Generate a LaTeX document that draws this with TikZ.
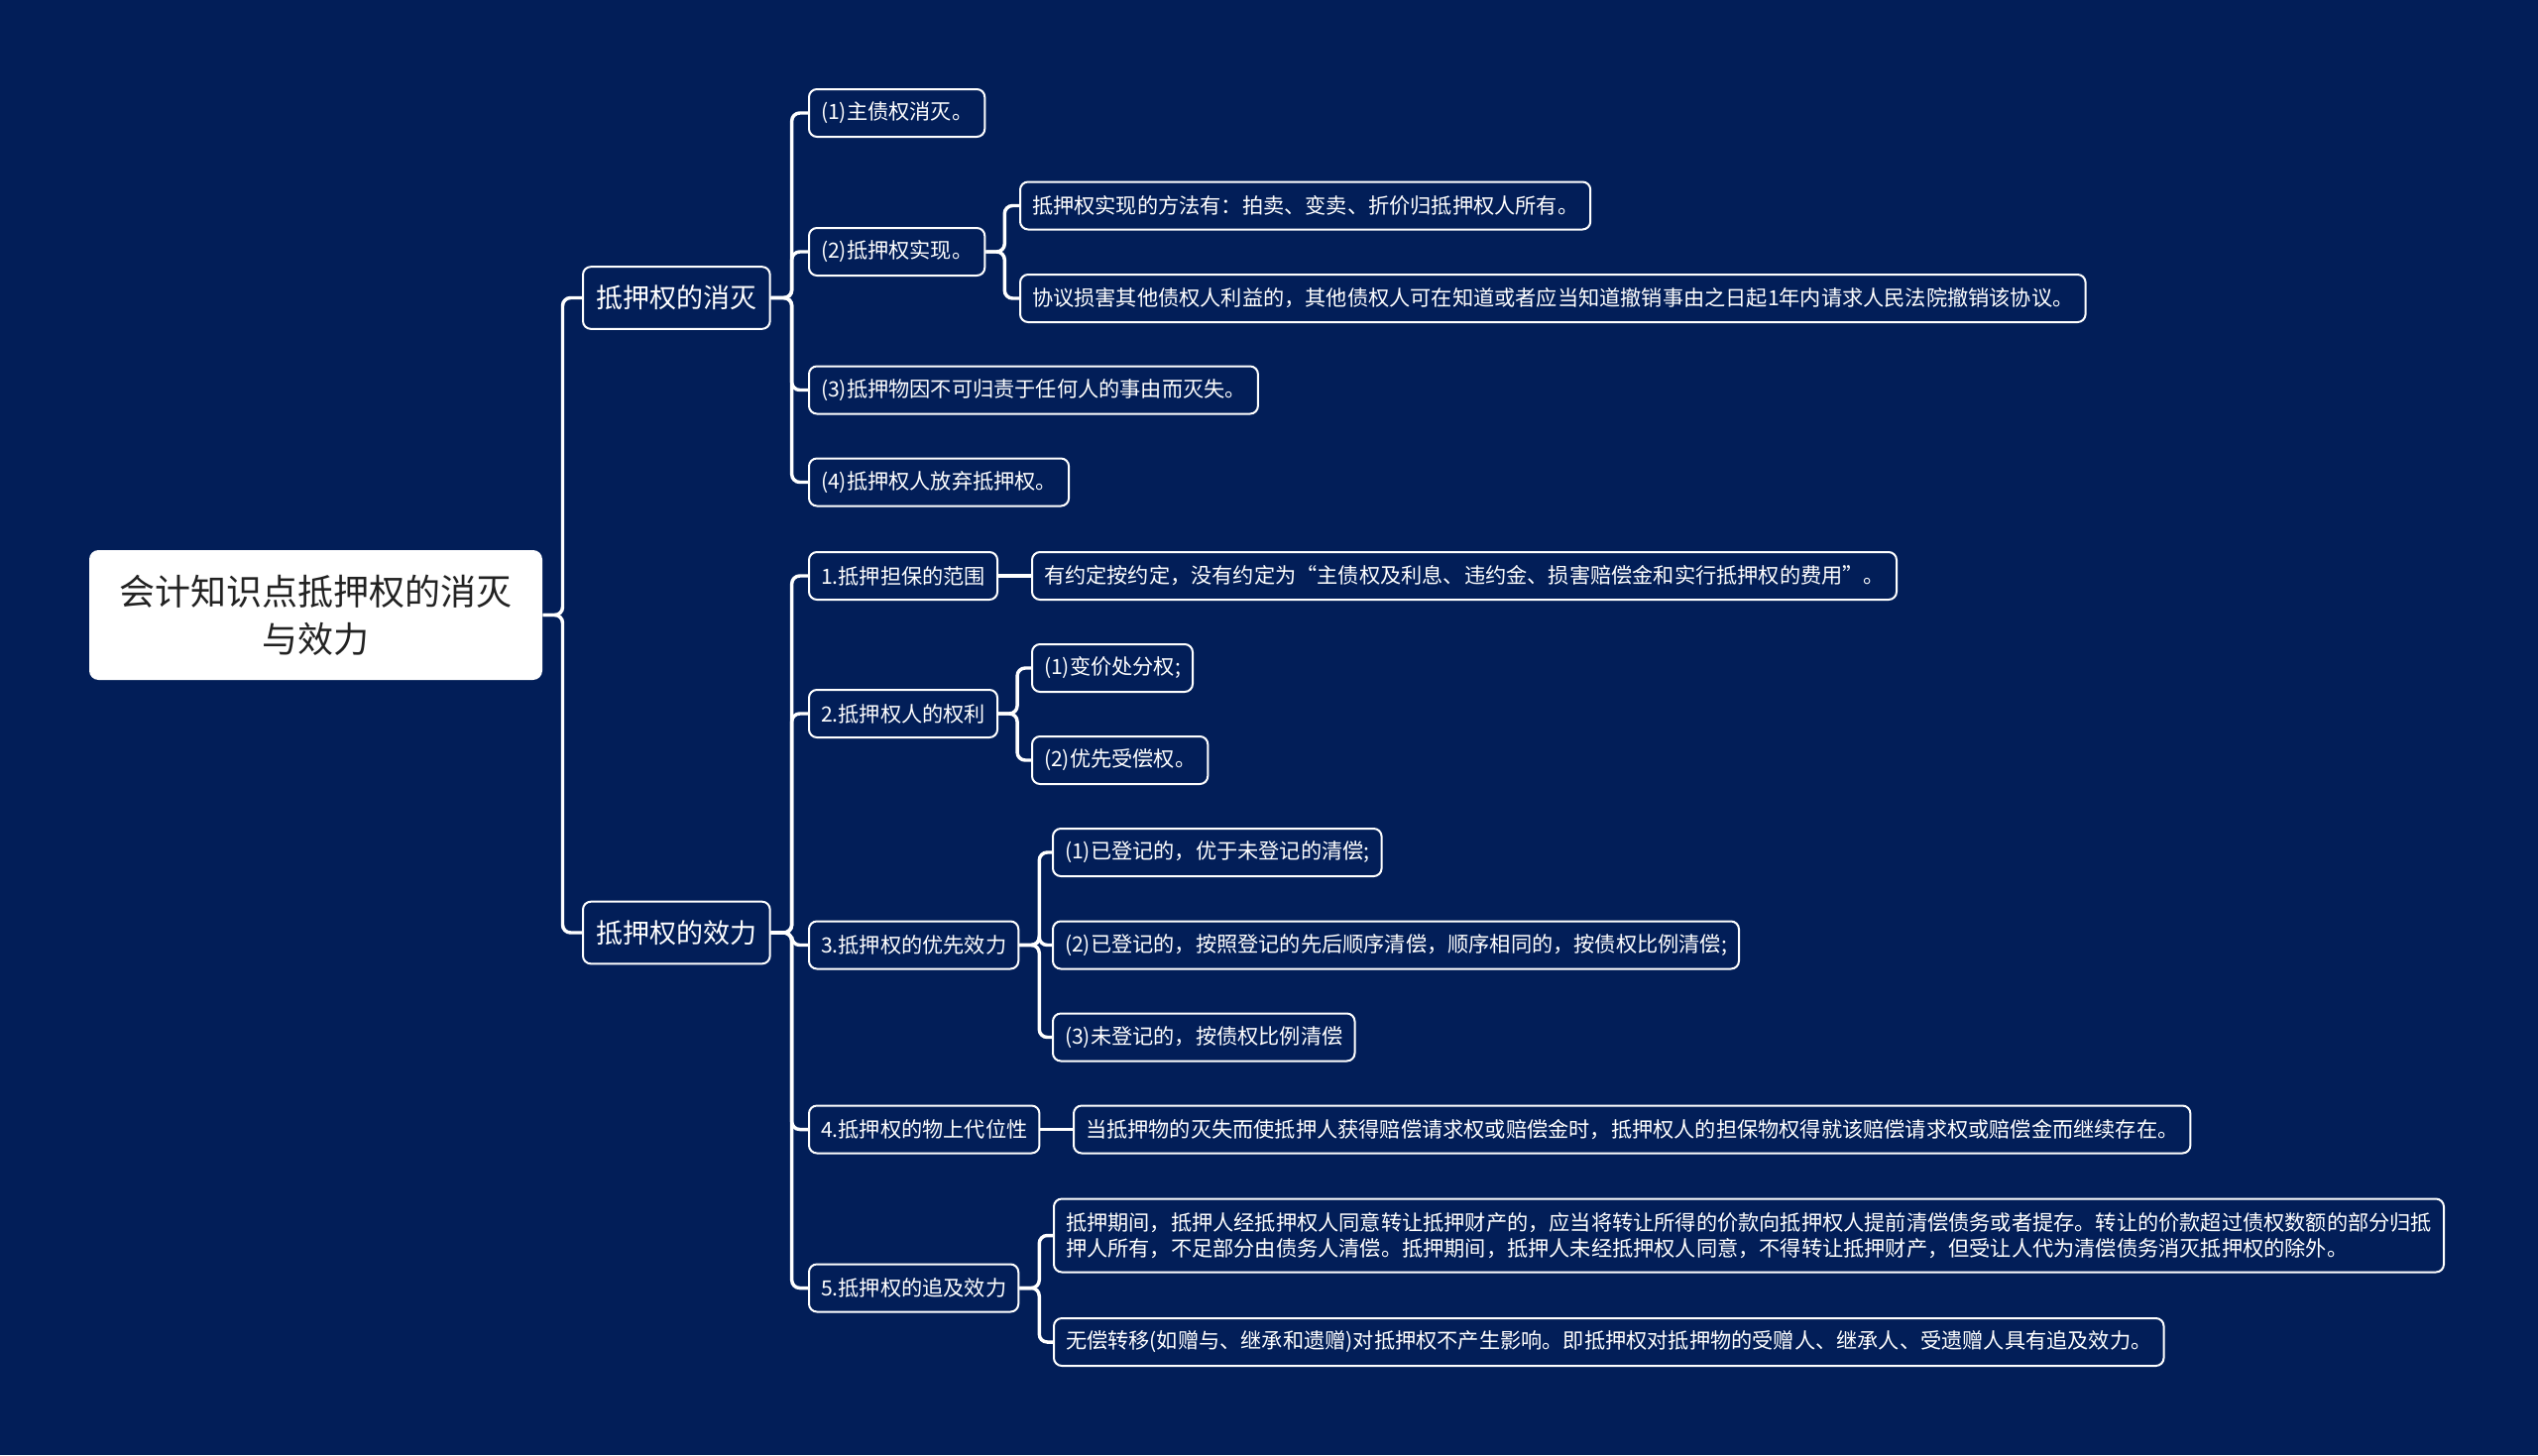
\documentclass[tikz,border=0pt]{standalone}
\usepackage{fontspec}
\setmainfont{Noto Sans CJK SC}
\definecolor{bgnavy}{RGB}{2,30,88}
\definecolor{roottext}{RGB}{34,34,34}

\tikzset{every picture/.style={line width=0.75pt}}
\tikzset{
  topic/.style={draw=white,line width=1.5pt,fill=bgnavy,text=white,rounded corners=6pt,
    anchor=west,inner xsep=9pt,inner ysep=0pt,minimum height=36pt,align=left,
    font=\fontsize{15.9}{19.5}\selectfont},
  major/.style={topic,minimum height=47pt,inner xsep=10pt,font=\fontsize{20.25}{24}\selectfont},
  rootbox/.style={fill=white,rounded corners=7pt,minimum width=342.75pt,minimum height=98.25pt,
    align=center,text=roottext,font=\fontsize{27}{36}\selectfont},
  conn/.style={draw=white,line width=2.6pt,rounded corners=6pt},
}

\begin{document}
\begin{tikzpicture}[x=0.75pt,y=0.75pt,yscale=-1,xscale=1]
		%background, 2560 x 1468
		\fill [bgnavy] (0,0) rectangle (2560,1468);
		\useasboundingbox (0,0) rectangle (2560,1468);
		
		% Root Node
		\node (root) [rootbox] at (318.5,620.5) {会计知识点抵押权的消灭\\与效力};
		
		% Text Node
		\node (ext) [major] at (587,300.5) {抵押权的消灭};
		% Text Node
		\node (eff) [major] at (587,941) {抵押权的效力};
		
		% Text Node
		\node (ext1) [topic] at (815,114) {(1)主债权消灭。};
		% Text Node
		\node (ext2) [topic] at (815,254) {(2)抵押权实现。};
		% Text Node
		\node (ext2a) [topic] at (1028,207.5) {抵押权实现的方法有：拍卖、变卖、折价归抵押权人所有。};
		% Text Node
		\node (ext2b) [topic] at (1028,301) {协议损害其他债权人利益的，其他债权人可在知道或者应当知道撤销事由之日起1年内请求人民法院撤销该协议。};
		% Text Node
		\node (ext3) [topic] at (815,393.5) {(3)抵押物因不可归责于任何人的事由而灭失。};
		% Text Node
		\node (ext4) [topic] at (815,486.5) {(4)抵押权人放弃抵押权。};
		
		% Text Node
		\node (eff1) [topic] at (815,581) {1.抵押担保的范围};
		% Text Node
		\node (eff1a) [topic] at (1040,581) {有约定按约定，没有约定为“主债权及利息、违约金、损害赔偿金和实行抵押权的费用”。};
		% Text Node
		\node (eff2) [topic] at (815,720) {2.抵押权人的权利};
		% Text Node
		\node (eff2a) [topic] at (1040,674) {(1)变价处分权;};
		% Text Node
		\node (eff2b) [topic] at (1040,767) {(2)优先受偿权。};
		% Text Node
		\node (eff3) [topic] at (815,953.5) {3.抵押权的优先效力};
		% Text Node
		\node (eff3a) [topic] at (1061,860) {(1)已登记的，优于未登记的清偿;};
		% Text Node
		\node (eff3b) [topic] at (1061,953.5) {(2)已登记的，按照登记的先后顺序清偿，顺序相同的，按债权比例清偿;};
		% Text Node
		\node (eff3c) [topic] at (1061,1046.5) {(3)未登记的，按债权比例清偿};
		% Text Node
		\node (eff4) [topic] at (815,1139.5) {4.抵押权的物上代位性};
		% Text Node
		\node (eff4a) [topic] at (1082,1139.5) {当抵押物的灭失而使抵押人获得赔偿请求权或赔偿金时，抵押权人的担保物权得就该赔偿请求权或赔偿金而继续存在。};
		% Text Node
		\node (eff5) [topic] at (815,1299.5) {5.抵押权的追及效力};
		% Text Node
		\node (eff5a) [topic,minimum height=55.5pt] at (1062,1246.5) {抵押期间，抵押人经抵押权人同意转让抵押财产的，应当将转让所得的价款向抵押权人提前清偿债务或者提存。转让的价款超过债权数额的部分归抵\\押人所有，不足部分由债务人清偿。抵押期间，抵押人未经抵押权人同意，不得转让抵押财产，但受让人代为清偿债务消灭抵押权的除外。};
		% Text Node
		\node (eff5b) [topic] at (1062,1354) {无偿转移(如赠与、继承和遗赠)对抵押权不产生影响。即抵押权对抵押物的受赠人、继承人、受遗赠人具有追及效力。};
		
		%Connectors root
		\draw [conn] (root.east) -- ++(20,0) |- (ext.west);
		\draw [conn] (root.east) -- ++(20,0) |- (eff.west);
		%Connectors ext
		\draw [conn] (ext.east) -- ++(21,0) |- (ext1.west);
		\draw [conn] (ext.east) -- ++(21,0) |- (ext2.west);
		\draw [conn] (ext.east) -- ++(21,0) |- (ext3.west);
		\draw [conn] (ext.east) -- ++(21,0) |- (ext4.west);
		\draw [conn] (ext2.east) -- ++(19,0) |- (ext2a.west);
		\draw [conn] (ext2.east) -- ++(19,0) |- (ext2b.west);
		%Connectors eff
		\draw [conn] (eff.east) -- ++(21,0) |- (eff1.west);
		\draw [conn] (eff.east) -- ++(21,0) |- (eff2.west);
		\draw [conn] (eff.east) -- ++(21,0) |- (eff3.west);
		\draw [conn] (eff.east) -- ++(21,0) |- (eff4.west);
		\draw [conn] (eff.east) -- ++(21,0) |- (eff5.west);
		\draw [conn] (eff1.east) -- (eff1a.west);
		\draw [conn] (eff2.east) -- ++(19,0) |- (eff2a.west);
		\draw [conn] (eff2.east) -- ++(19,0) |- (eff2b.west);
		\draw [conn] (eff3.east) -- ++(20,0) |- (eff3a.west);
		\draw [conn] (eff3.east) -- ++(20,0) |- (eff3b.west);
		\draw [conn] (eff3.east) -- ++(20,0) |- (eff3c.west);
		\draw [conn] (eff4.east) -- (eff4a.west);
		\draw [conn] (eff5.east) -- ++(20,0) |- (eff5a.west);
		\draw [conn] (eff5.east) -- ++(20,0) |- (eff5b.west);
		
	\end{tikzpicture}
\end{document}
